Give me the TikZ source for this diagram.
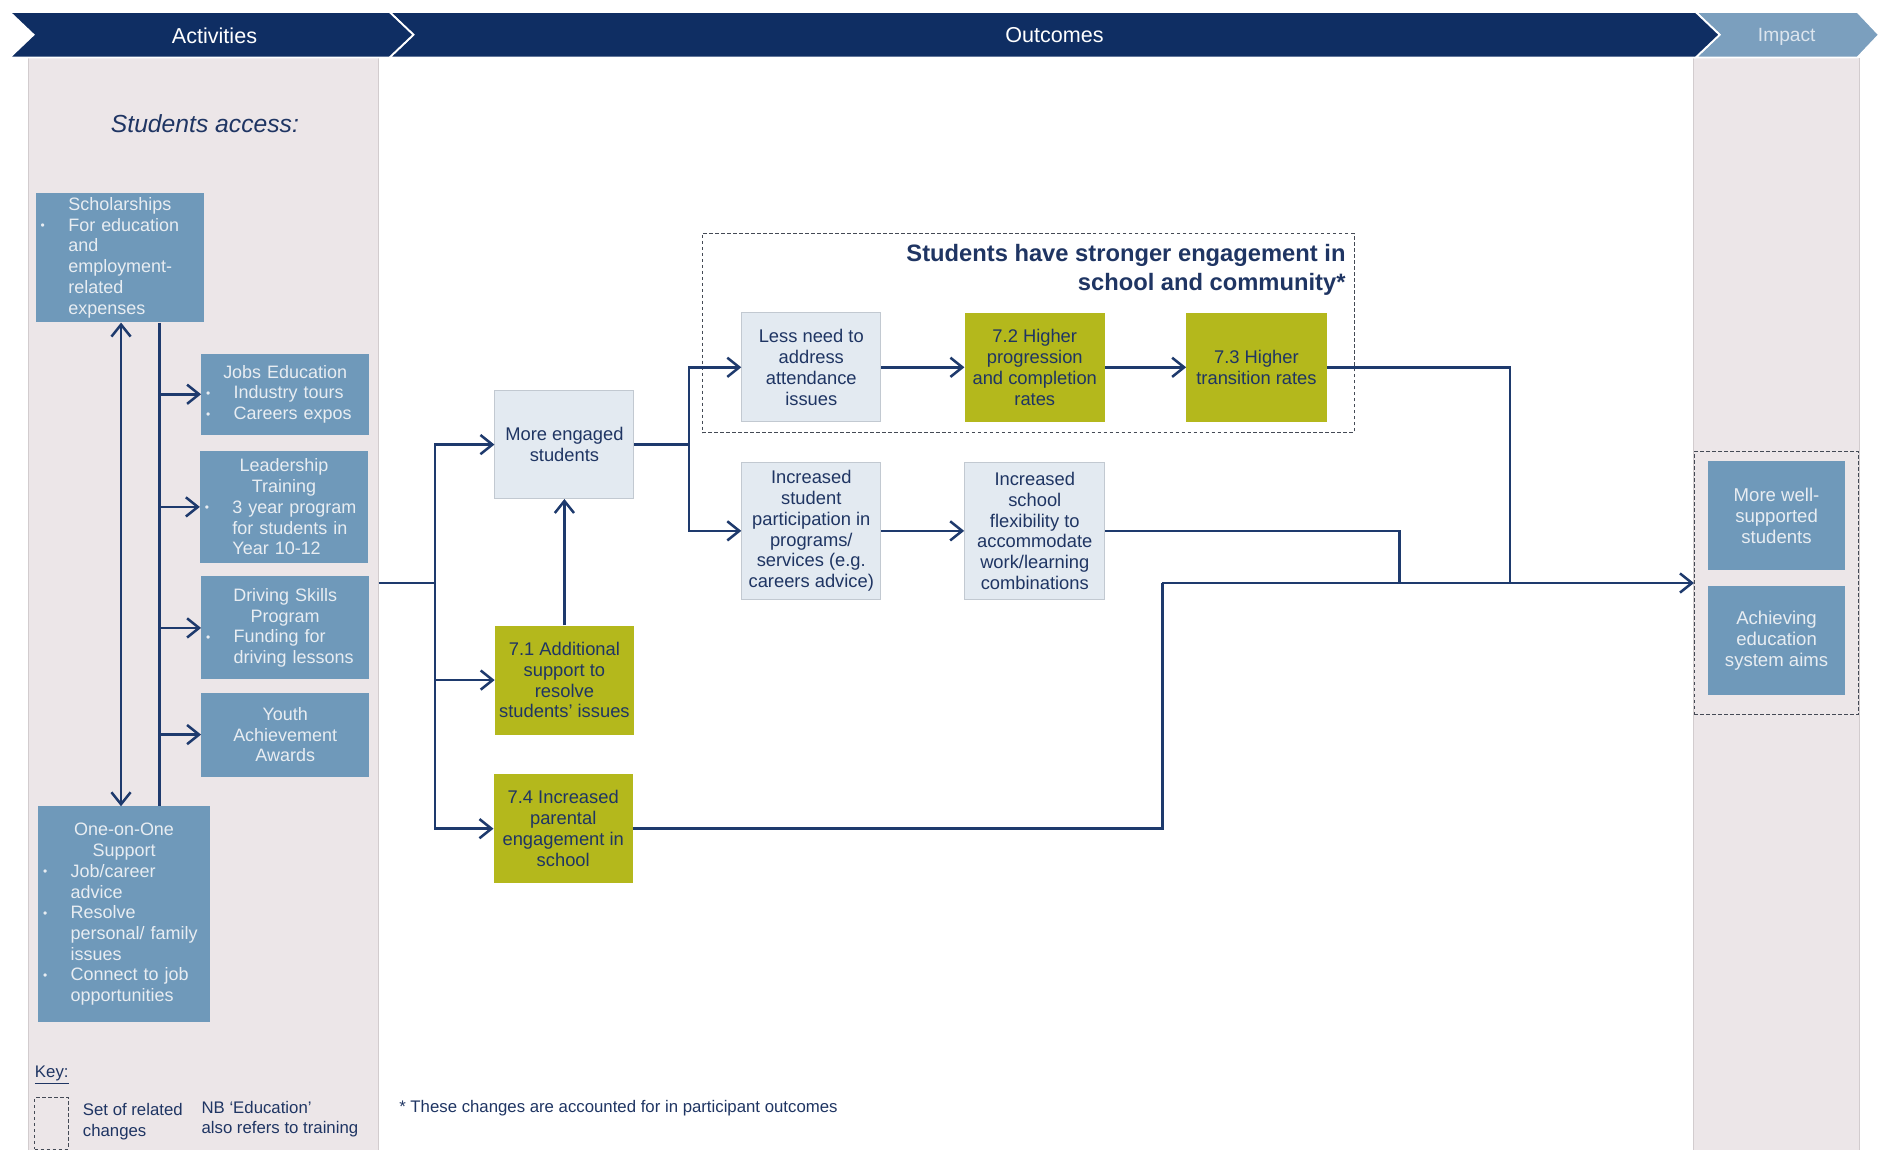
\documentclass[tikz,border=0pt]{standalone}
\usepackage{fontspec}
\setmainfont{Liberation Sans}
\usetikzlibrary{arrows.meta}
\definecolor{navy}{HTML}{0F2E63}
\definecolor{impactc}{HTML}{7B9FBE}
\definecolor{impacttxt}{HTML}{DCE5EE}
\definecolor{colbg}{HTML}{ECE6E8}
\definecolor{colline}{HTML}{D2CCCE}
\definecolor{steel}{HTML}{6F99BA}
\definecolor{steeltxt}{HTML}{E8EDF2}
\definecolor{olive}{HTML}{B4B81C}
\definecolor{pale}{HTML}{E3EAF1}
\definecolor{paleline}{HTML}{C2C9D1}
\definecolor{txt}{HTML}{1F3563}
\definecolor{lnc}{HTML}{1E3A6D}
\definecolor{dashc}{HTML}{444A55}
\newcommand\abul{\makebox[23pt][l]{\raisebox{1.2pt}{\fontsize{10}{10}\selectfont\textbullet}}}
\newcommand\aind{\hspace*{23pt}}
\newcommand\actr[1]{\makebox[\linewidth][c]{#1}}
\begin{document}
\begin{tikzpicture}[x=1pt,y=-1pt,
  ln/.style={draw=lnc, line width=2.1pt},
  arr/.style={ln, -{Straight Barb[length=10pt,width=16pt]}},
  arrboth/.style={ln, {Straight Barb[length=10pt,width=16pt]}-{Straight Barb[length=10pt,width=16pt]}},
  actbox/.style={fill=steel, text=steeltxt, font=\fontsize{15}{17.3}\selectfont,
     inner xsep=4pt, inner ysep=2pt, align=left},
  palebox/.style={fill=pale, draw=paleline, line width=0.8pt, text=txt,
     font=\fontsize{15.3}{17.4}\selectfont, align=center, inner sep=1pt},
  olivebox/.style={fill=olive, text=txt, font=\fontsize{15.3}{17.4}\selectfont,
     align=center, inner sep=1pt},
  impbox/.style={fill=steel, text=steeltxt, font=\fontsize{15.5}{17.5}\selectfont,
     align=center, inner sep=1pt},
  dashbox/.style={draw=dashc, line width=0.8pt, dash pattern=on 3pt off 2pt},
  bannertxt/.style={text=white, font=\fontsize{18}{20}\selectfont},
  navytxt/.style={text=txt}
]
\useasboundingbox (0,0) rectangle (1568,959);
\fill[white] (0,0) rectangle (1568,959);

% column backgrounds
\fill[colbg] (24,48) rectangle (316,962);
\draw[colline, line width=0.8pt] (24,48) -- (24,962) (316,48) -- (316,962);
\fill[colbg] (1413,48) rectangle (1552,962);
\draw[colline, line width=0.8pt] (1413,48) -- (1413,962) (1552,48) -- (1552,962);

% banner
\fill[impactc, draw=white, line width=1.5pt] (1415,10) -- (1550,10) -- (1568,29) -- (1550,48) -- (1415,48) -- (1435,29) -- cycle;
\fill[navy, draw=white, line width=1.5pt] (325,10) -- (1415,10) -- (1435,29) -- (1415,48) -- (325,48) -- (345,29) -- cycle;
\fill[navy, draw=white, line width=1.5pt] (8,10) -- (325,10) -- (345,29) -- (325,48) -- (8,48) -- (28,29) -- cycle;
\node[bannertxt] (tact) at (179,29.5) {Activities};
\node[bannertxt] (tout) at (880,29.5) {Outcomes};
\node[text=impacttxt, font=\fontsize{16}{18}\selectfont] (timp) at (1491,30.5) {Impact};

% activities
\node[text=txt, font=\itshape\fontsize{20.6}{24}\selectfont] (sacc) at (171,103.5) {Students access:};

\node[actbox, minimum width=140, minimum height=108, text width=132] (schol) at (100,215)
 {\actr{Scholarships}\\
  \abul For education\\
  \aind and\\
  \aind employment-\\
  \aind related\\
  \aind expenses};
\node[actbox, minimum width=140, minimum height=68, text width=132] (jobs) at (238,329)
 {\actr{Jobs Education}\\
  \abul Industry tours\\
  \abul Careers expos};
\node[actbox, minimum width=140, minimum height=94, text width=132] (lead) at (237,423)
 {\actr{Leadership}\\
  \actr{Training}\\
  \abul 3 year program\\
  \aind for students in\\
  \aind Year 10-12};
\node[actbox, minimum width=140, minimum height=86, text width=132] (drive) at (238,524)
 {\actr{Driving Skills}\\
  \actr{Program}\\
  \abul Funding for\\
  \aind driving lessons};
\node[actbox, align=center, minimum width=140, minimum height=70] (youth) at (238,613)
 {Youth\\Achievement\\Awards};
\node[actbox, minimum width=143, minimum height=180, text width=135] (one) at (103.5,763)
 {\actr{One-on-One}\\
  \actr{Support}\\
  \abul Job/career\\
  \aind advice\\
  \abul Resolve\\
  \aind personal/ family\\
  \aind issues\\
  \abul Connect to job\\
  \aind opportunities};

\coordinate (tx) at (133,0);
\coordinate (dx) at (101,0);
\draw[ln] (schol.south -| tx) -- (one.north -| tx);
\draw[arrboth] (schol.south -| dx) -- (one.north -| dx);
\draw[arr] (tx |- jobs) -- (jobs.west);
\draw[arr] (tx |- lead) -- (lead.west);
\draw[arr] (tx |- drive) -- (drive.west);
\draw[arr] (tx |- youth) -- (youth.west);

% outcomes
\node[palebox, minimum width=116, minimum height=90] (more) at (471,371) {More engaged\\students};
\node[olivebox, minimum width=116, minimum height=91] (s71) at (471,567.5) {7.1 Additional\\support to\\resolve\\students’ issues};
\node[olivebox, minimum width=116, minimum height=91] (s74) at (470,691.5) {7.4 Increased\\parental\\engagement in\\school};

\node[dashbox, minimum width=544, minimum height=166] (eng) at (858,278) {};
\node[anchor=east, align=right, text=txt, font=\bfseries\fontsize{19.8}{24}\selectfont, inner sep=0pt] (etitle) at (1123,225)
 {Students have stronger engagement in\\school and community*};

\node[palebox, minimum width=116, minimum height=91] (less) at (677,306.5) {Less need to\\address\\attendance\\issues};
\node[olivebox, minimum width=117, minimum height=91] (s72) at (863.5,306.5) {7.2 Higher\\progression\\and completion\\rates};
\node[olivebox, minimum width=117, minimum height=91] (s73) at (1048.5,306.5) {7.3 Higher\\transition rates};
\node[palebox, minimum width=116, minimum height=114] (part) at (677,443) {Increased\\student\\participation in\\programs/\\services (e.g.\\careers advice)};
\node[palebox, minimum width=117, minimum height=114] (flex) at (863.5,443) {Increased\\school\\flexibility to\\accommodate\\work/learning\\combinations};

% impact
\node[dashbox, minimum width=137, minimum height=219] (impgrp) at (1482.5,486.5) {};
\node[impbox, minimum width=115, minimum height=91] (well) at (1482.5,430.5) {More well-\\supported\\students};
\node[impbox, minimum width=115, minimum height=91] (aims) at (1482.5,534.5) {Achieving\\education\\system aims};

% connectors
\coordinate (actedge) at (316,486.5);
\coordinate (j1) at (363,486.5);
\draw[ln] (actedge) -- (j1);
\draw[arr] (j1) |- (more.west);
\draw[arr] (j1) |- (s71.west);
\draw[arr] (j1) |- (s74.west);
\draw[arr] (s71.north) -- (more.south);
\coordinate (j2) at (575,371);
\draw[ln] (more.east) -- (j2);
\draw[arr] (j2) |- (less.west);
\draw[arr] (j2) |- (part.west);
\draw[arr] (less) -- (s72);
\draw[arr] (s72) -- (s73);
\draw[arr] (part) -- (flex);
\coordinate (j3) at (1260,486.5);
\coordinate (j4) at (1168,486.5);
\coordinate (j5) at (970,486.5);
\draw[ln] (s73.east) -| (j3);
\draw[ln] (flex.east) -| (j4);
\draw[ln] (s74.east) -| (j5);
\draw[arr] (j5) -- (impgrp.west);

% key and notes
\node[anchor=west, text=txt, font=\fontsize{14}{17}\selectfont, inner sep=0pt] (key) at (29,897) {\underline{Key:}};
\node[dashbox, minimum width=28, minimum height=43, inner sep=0pt] (keybox) at (43,937.5) {};
\node[anchor=west, align=left, text=txt, font=\fontsize{14}{17}\selectfont, inner sep=0pt] (keytxt) at (69,936) {Set of related\\changes};
\node[anchor=west, align=left, text=txt, font=\fontsize{14}{17}\selectfont, inner sep=0pt] (nb) at (168,934) {NB ‘Education’\\also refers to training};
\node[anchor=west, text=txt, font=\fontsize{14}{16}\selectfont, inner sep=0pt] (fn) at (333,925) {* These changes are accounted for in participant outcomes};
\end{tikzpicture}
\end{document}
